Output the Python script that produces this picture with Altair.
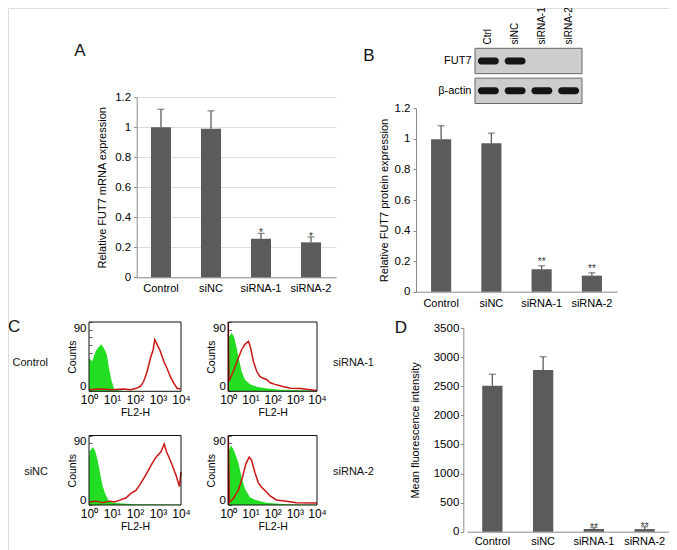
import altair as alt
import pandas as pd

FONT = "Liberation Sans"
GROUPS = ["Control", "siNC", "siRNA-1", "siRNA-2"]

# Panel A: relative FUT7 mRNA expression
mrna_mean = [1.00, 0.99, 0.257, 0.233]
mrna_upper = [1.12, 1.11, 0.293, 0.269]
mrna_sig = ["", "", "*", "*"]

# Panel B: relative FUT7 protein expression
protein_mean = [0.997, 0.971, 0.147, 0.105]
protein_upper = [1.086, 1.037, 0.170, 0.124]
protein_sig = ["", "", "**", "**"]

# Panel D: mean fluorescence intensity
mfi_mean = [2512, 2782, 46, 45]
mfi_upper = [2708, 3010, 70, 86]
mfi_sig = ["", "", "**", "**"]

# Western blot (band presence per lane)
blot_lanes = ["Ctrl", "siNC", "siRNA-1", "siRNA-2"]
blot_rows = ["FUT7", "β-actin"]
fut7_signal = [1.0, 1.0, 0.0, 0.0]
actin_signal = [1.0, 1.0, 1.0, 1.0]

# Panel C: flow cytometry histograms, x = log10(FL2-H), y = counts
FL2_DOMAIN = [0, 4]
COUNT_DOMAIN = [0, 90]
COUNT_TICKS = [0, 10, 20, 30, 40, 50, 60, 70, 80, 90]

ctrl_iso_x = [0, 0.14, 0.29, 0.43, 0.53, 0.65, 0.77, 0.87, 0.97, 1.08, 1.16, 1.5, 4.0]
ctrl_iso_y = [43, 39, 52, 58, 61, 56, 48, 30, 15, 4, 2, 0.5, 0.5]
ctrl_fut_x = [0, 0.5, 1.0, 1.5, 1.8, 2.02, 2.24, 2.38, 2.53, 2.67, 2.79, 2.86, 2.96, 3.1, 3.25,
              3.39, 3.54, 3.68, 3.83, 3.97]
ctrl_fut_y = [2, 3, 2, 3, 2, 3.5, 6.5, 13, 26, 43, 54, 67, 61, 52, 39, 30, 19, 11, 4, 3]

si1_iso_x = [0, 0.15, 0.26, 0.38, 0.5, 0.6, 0.75, 0.98, 1.28, 1.74, 2.34, 4.0]
si1_iso_y = [69, 76, 71, 56, 39, 26, 15, 9, 6, 3.5, 2, 1]
si1_fut_x = [0, 0, 0.03, 0.23, 0.45, 0.6, 0.75, 0.91, 1.01, 1.13, 1.28, 1.43, 1.58, 1.74, 1.89,
             2.11, 2.42, 2.79, 3.25, 3.7, 4.0]
si1_fut_y = [0, 90, 13, 26, 43, 54, 61, 65, 56, 39, 26, 19, 17, 15, 11, 9, 6.5, 4, 3.5, 2, 1]

sinc_iso_x = [0, 0.03, 0.15, 0.26, 0.36, 0.47, 0.58, 0.7, 0.84, 1.02, 1.45, 2.0, 4.0]
sinc_iso_y = [60, 69, 75, 71, 60, 43, 26, 15, 6, 3, 2, 1, 0.5]
sinc_fut_x = [0, 0.3, 0.6, 0.9, 1.1, 1.31, 1.6, 1.82, 2.04, 2.25, 2.47, 2.69, 2.91, 3.13, 3.27,
              3.37, 3.56, 3.78, 3.93, 4.0]
sinc_fut_y = [4, 5, 3, 5, 4, 6, 9, 15, 19, 28, 39, 51, 62, 69, 79, 69, 56, 39, 24, 43]

si2_iso_x = [0, 0.03, 0.12, 0.22, 0.34, 0.45, 0.6, 0.75, 0.97, 1.27, 1.72, 2.62, 4.0]
si2_iso_y = [60, 71, 77, 73, 64, 55, 36, 21, 10, 6, 3, 1, 0.5]
si2_fut_x = [0, 0, 0.05, 0.22, 0.45, 0.64, 0.79, 0.94, 1.05, 1.2, 1.35, 1.5, 1.65, 1.87, 2.17,
             2.62, 3.07, 4.0]
si2_fut_y = [0, 90, 3.5, 8, 19, 36, 53, 62, 58, 42, 29, 23, 19, 12, 6.5, 5, 3, 2.6]

W, H = 661, 542
BAR_COLOR = "#5b5b5b"
AXIS_GRAY = "#8a8a8a"


def bar_panel(means, uppers, sigs, x_range, y_range, y_max, y_values, y_title,
              x_axis_y, y_axis_x, title_pad, x_lab_pad, y_lab_pad, star_dy, fmt):
    df = pd.DataFrame({"group": GROUPS, "mean": means, "upper": uppers, "sig": sigs})
    xs = alt.Scale(domain=GROUPS, range=x_range, paddingInner=0.6, paddingOuter=0.3)
    ys = alt.Scale(domain=[0, y_max], range=y_range, nice=False, zero=True)
    xax = alt.Axis(orient="bottom", offset=x_axis_y - H, title=None, labelAngle=0, ticks=False,
                   domainColor=AXIS_GRAY, labelPadding=x_lab_pad, labelFontSize=11)
    yax = alt.Axis(orient="left", offset=-y_axis_x, values=y_values, title=y_title, format=fmt,
                   tickSize=3, tickColor=AXIS_GRAY, domainColor=AXIS_GRAY,
                   labelPadding=y_lab_pad, titlePadding=title_pad, labelFontSize=11.5,
                   titleFontSize=11, titleFontWeight="normal")
    X = alt.X("group:N", sort=GROUPS, scale=xs, axis=xax)
    base = alt.Chart(df)
    bars = base.mark_bar(color=BAR_COLOR).encode(
        x=X, y=alt.Y("mean:Q", scale=ys, axis=yax))
    err = base.mark_rule(color=BAR_COLOR, strokeWidth=1.3).encode(
        x=X, y=alt.Y("mean:Q", scale=ys, axis=yax), y2="upper:Q")
    cap = base.mark_tick(color=BAR_COLOR, size=7, thickness=1.3).encode(
        x=X, y=alt.Y("upper:Q", scale=ys, axis=yax))
    stars = base.mark_text(fontSize=10, baseline="alphabetic", dy=star_dy, color="#333",
                           font=FONT).encode(
        x=X, y=alt.Y("upper:Q", scale=ys, axis=yax), text="sig:N")
    return alt.layer(bars, err, cap, stars)


def hist_panel(iso_x, iso_y, fut_x, fut_y, x_range, y_range):
    iso = pd.DataFrame({"fl2": iso_x, "count": iso_y})
    fut = pd.DataFrame({"fl2": fut_x, "count": fut_y})
    xs = alt.Scale(domain=FL2_DOMAIN, range=x_range, nice=False, zero=False)
    ys = alt.Scale(domain=COUNT_DOMAIN, range=y_range, nice=False, zero=False)
    xax = alt.Axis(orient="bottom", offset=y_range[0] - H, values=[0, 1, 2, 3, 4],
                   labelExpr="'10' + ['⁰','¹','²','³','⁴'][datum.value]",
                   title="FL2-H", ticks=False, domain=False, labelPadding=3.5,
                   labelFontSize=12, titleFontSize=10.5, titlePadding=2, labelFlush=False,
                   titleFontWeight="normal")
    # ticks drawn just inside the frame's left edge; only 0 and 90 are labelled
    yax = alt.Axis(orient="left", offset=-(x_range[0] + 3), values=COUNT_TICKS, title="Counts",
                   labelExpr="(datum.value == 0 || datum.value == 90) ? datum.label : ''",
                   ticks=True, tickSize=3, tickColor="#333", tickWidth=0.8, domain=False,
                   labelPadding=3, labelFontSize=11.5, labelFlush=True,
                   titleFontSize=10.5, titlePadding=-4, titleFontWeight="normal")
    X = alt.X("fl2:Q", scale=xs, axis=xax)
    Y = alt.Y("count:Q", scale=ys, axis=yax)
    area = alt.Chart(iso).mark_area(color="#22dd22", opacity=1).encode(x=X, y=Y)
    line = alt.Chart(fut).mark_line(color="#cc1515", strokeWidth=1.5).encode(x=X, y=Y)
    frame = alt.Chart(pd.DataFrame({"k": [0]})).mark_rect(
        fill="transparent", stroke="#111", strokeWidth=1).encode(
        x=alt.datum(FL2_DOMAIN[0]), x2=alt.datum(FL2_DOMAIN[1]),
        y=alt.datum(COUNT_DOMAIN[0]), y2=alt.datum(COUNT_DOMAIN[1]))
    return alt.layer(area, line, frame)


def label(text, x, y, size, align="center"):
    return alt.Chart(pd.DataFrame({"t": [text]})).mark_text(
        fontSize=size, align=align, baseline="middle", font=FONT, color="#111").encode(
        x=alt.value(x), y=alt.value(y), text="t:N")


panel_a = bar_panel(mrna_mean, mrna_upper, mrna_sig, [128, 328], [269.3, 89.3], 1.2,
                    [0, 0.2, 0.4, 0.6, 0.8, 1, 1.2], "Relative FUT7 mRNA expression",
                    269.3, 128.7, 7, 5, 3, 3, "~g")
panel_b = bar_panel(protein_mean, protein_upper, protein_sig, [408, 609], [283.7, 100.3], 1.2,
                    [0, 0.2, 0.4, 0.6, 0.8, 1, 1.2], "Relative FUT7 protein expression",
                    283.7, 408, 4.5, 6, 3, -1, "~g")
panel_d = bar_panel(mfi_mean, mfi_upper, mfi_sig, [459, 662], [523.7, 320.2], 3500,
                    [0, 500, 1000, 1500, 2000, 2500, 3000, 3500], "Mean fluorescence intensity",
                    523.7, 455.3, 13, 4, 1.5, 3, "d")

# Western blot
blot_df = pd.DataFrame({
    "row": [r for r in blot_rows for _ in blot_lanes],
    "lane": blot_lanes * 2,
    "signal": fut7_signal + actin_signal,
})
box_df = pd.DataFrame({"row": blot_rows, "first": [blot_lanes[0]] * 2,
                       "last": [blot_lanes[-1]] * 2})
lane_scale = alt.Scale(domain=blot_lanes, range=[467, 574], paddingInner=0, paddingOuter=0)
row_scale = alt.Scale(domain=blot_rows, range=[40.3, 95.5], paddingInner=0.15, paddingOuter=0)
lane_axis = alt.Axis(orient="top", offset=-40, labelAngle=-90, ticks=False, domain=False,
                     title=None, labelPadding=4, labelFontSize=10)
row_axis = alt.Axis(orient="left", offset=-467, ticks=False, domain=False, title=None,
                    labelPadding=4, labelFontSize=11)
box = alt.Chart(box_df).mark_rect(fill="#cdcdcd", stroke="#666", strokeWidth=1).encode(
    x=alt.X("first:N", scale=lane_scale, axis=lane_axis, bandPosition=0),
    x2=alt.X2("last:N", bandPosition=1),
    y=alt.Y("row:N", scale=row_scale, axis=row_axis))
bands = alt.Chart(blot_df).mark_rect(color="#151515", width=21, height=7, cornerRadius=3.5).encode(
    x=alt.X("lane:N", scale=lane_scale, axis=lane_axis),
    y=alt.Y("row:N", scale=row_scale, axis=row_axis),
    opacity=alt.Opacity("signal:Q", scale=alt.Scale(domain=[0, 1], range=[0, 1]), legend=None))
blot = alt.layer(box, bands)

TOP_Y = [383.3, 314]
BOT_Y = [497, 427.5]
LEFT_X = [81, 173]
RIGHT_X = [220.3, 309]

h_ctrl = hist_panel(ctrl_iso_x, ctrl_iso_y, ctrl_fut_x, ctrl_fut_y, LEFT_X, TOP_Y)
h_si1 = hist_panel(si1_iso_x, si1_iso_y, si1_fut_x, si1_fut_y, RIGHT_X, TOP_Y)
h_sinc = hist_panel(sinc_iso_x, sinc_iso_y, sinc_fut_x, sinc_fut_y, LEFT_X, BOT_Y)
h_si2 = hist_panel(si2_iso_x, si2_iso_y, si2_fut_x, si2_fut_y, RIGHT_X, BOT_Y)

texts = [
    label("A", 72, 43, 17),
    label("B", 361, 48, 17),
    label("C", 0, 319, 17, "left"),
    label("D", 393, 320, 17),
    label("Control", 40, 355, 11, "right"),
    label("siNC", 40, 464, 11, "right"),
    label("siRNA-1", 325, 355, 11, "left"),
    label("siRNA-2", 325, 464, 11, "left"),
]

chart = alt.layer(
    panel_a, panel_b, blot, panel_d, h_ctrl, h_si1, h_sinc, h_si2, *texts
).resolve_scale(x="independent", y="independent").properties(
    width=W, height=H, autosize=alt.AutoSizeParams(type="none"), padding=0
).configure_view(strokeWidth=0).configure_axis(
    labelFont=FONT, titleFont=FONT, labelColor="#222", titleColor="#222",
    titleFontWeight="normal", grid=False
).configure(background="white")

chart.save("out.html", embed_options={"renderer": "svg", "actions": False})
